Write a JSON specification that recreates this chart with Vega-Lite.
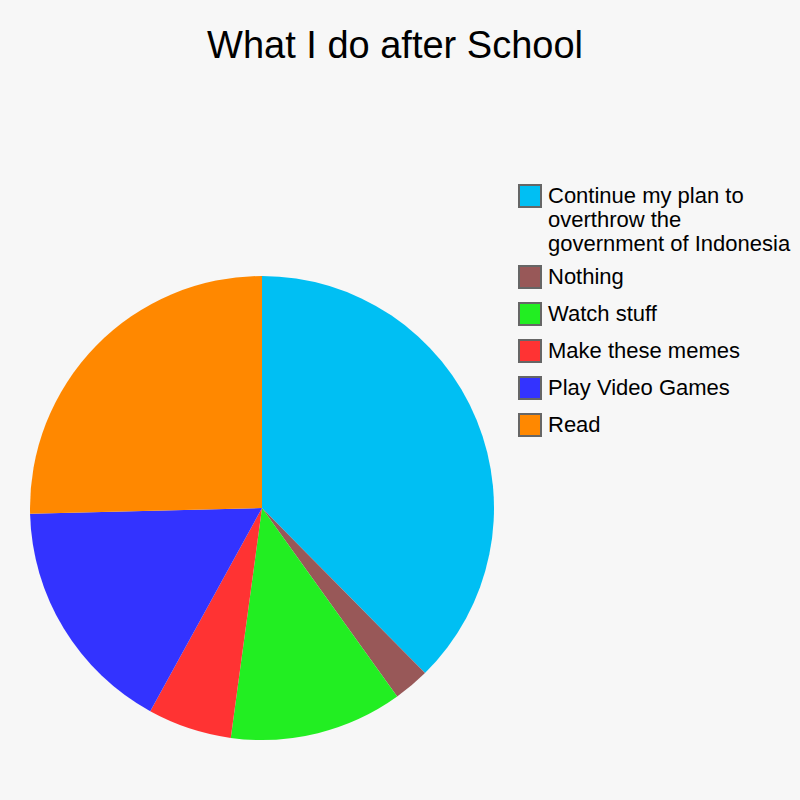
{
  "$schema": "https://vega.github.io/schema/vega-lite/v6.json",
  "width": 464,
  "height": 464,
  "autosize": {"type": "none"},
  "padding": {"left": 30, "top": 276, "right": 306, "bottom": 60},
  "background": "#f7f7f7",
  "title": {
    "text": "What I do after School",
    "font": "Liberation Sans",
    "fontSize": 38,
    "fontWeight": "normal",
    "color": "#000000",
    "anchor": "middle",
    "baseline": "alphabetic",
    "dx": 133,
    "offset": 88
  },
  "data": {
    "values": [
      {"activity": "Continue my plan to overthrow the government of Indonesia", "share": 37.6, "rank": 1},
      {"activity": "Nothing", "share": 2.5, "rank": 2},
      {"activity": "Watch stuff", "share": 12.05, "rank": 3},
      {"activity": "Make these memes", "share": 5.85, "rank": 4},
      {"activity": "Play Video Games", "share": 16.6, "rank": 5},
      {"activity": "Read", "share": 25.4, "rank": 6}
    ]
  },
  "mark": {"type": "arc", "stroke": null},
  "encoding": {
    "theta": {"field": "share", "type": "quantitative", "stack": true},
    "order": {"field": "rank", "type": "quantitative"},
    "color": {
      "field": "activity",
      "type": "nominal",
      "scale": {
        "domain": [
          "Continue my plan to overthrow the government of Indonesia",
          "Nothing",
          "Watch stuff",
          "Make these memes",
          "Play Video Games",
          "Read"
        ],
        "range": ["#00bff3", "#985858", "#22ee22", "#ff3333", "#3333ff", "#ff8800"]
      },
      "legend": {
        "title": null,
        "orient": "none",
        "legendX": 488,
        "legendY": -92,
        "padding": 0,
        "symbolType": "square",
        "symbolSize": 484,
        "symbolStrokeColor": "#666666",
        "symbolStrokeWidth": 2,
        "symbolOpacity": 1,
        "labelFont": "Liberation Sans",
        "labelFontSize": 22,
        "labelColor": "#000000",
        "labelLineHeight": 25,
        "labelLimit": 0,
        "labelOffset": 6,
        "rowPadding": 7,
        "labelExpr": "datum.label == 'Continue my plan to overthrow the government of Indonesia' ? ['Continue my plan to', 'overthrow the', 'government of Indonesia'] : datum.label"
      }
    }
  },
  "config": {"view": {"stroke": null}}
}
